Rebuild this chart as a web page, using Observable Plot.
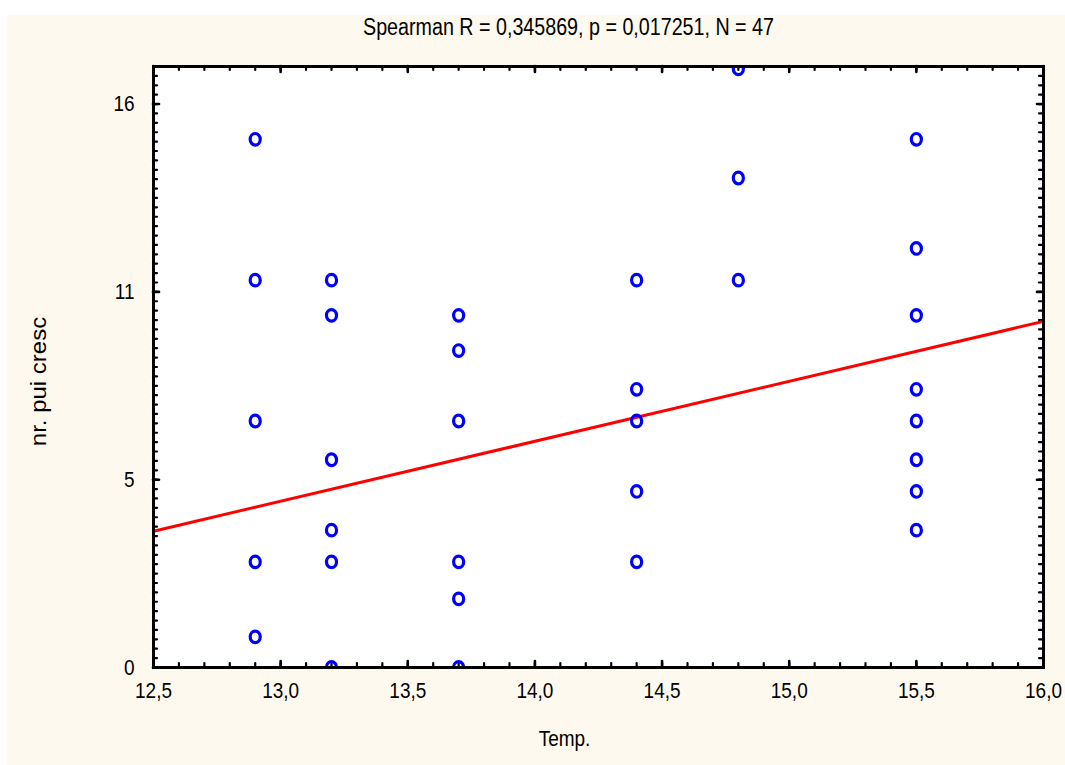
<!DOCTYPE html>
<html><head><meta charset="utf-8">
<script src="https://cdn.jsdelivr.net/npm/d3@7"></script>
<script src="https://cdn.jsdelivr.net/npm/@observablehq/plot@0.6"></script>
<style>
html,body{margin:0;padding:0;background:#fff;}
#bg{position:absolute;left:7px;top:15px;width:1058px;height:750px;background:#FEF9EE;}
#chart{position:absolute;left:0;top:0;}
</style></head><body>
<div id="bg"></div><div id="chart"></div>
<script>
// ---- data ----
const temp = [12.9,12.9,12.9,12.9,12.9,
              13.2,13.2,13.2,13.2,13.2,13.2,
              13.7,13.7,13.7,13.7,13.7,13.7,
              14.4,14.4,14.4,14.4,14.4,
              14.8,14.8,14.8,
              15.5,15.5,15.5,15.5,15.5,15.5,15.5,15.5];
const chicks = [15,11,7,3,0.87,
                11,10,5.9,3.9,3,0,
                10,9,7,3,1.95,0,
                11,7.9,7,5,3,
                17,13.9,11,
                15,11.9,10,7.9,7,5.9,5,3.9];
const fitX = [12.5, 16.0];
const fitY = [3.87, 9.83];
const xTickValues = [12.5,13.0,13.5,14.0,14.5,15.0,15.5,16.0];
const xTickLabels = ["12,5","13,0","13,5","14,0","14,5","15,0","15,5","16,0"];
const yTickValues = [0, 16/3, 32/3, 16];
const yTickLabels = ["0","5","11","16"];
const titleText = "Spearman R = 0,345869, p = 0,017251, N = 47";
const xLabel = "Temp.";
const yLabel = "nr. pui cresc";

const points = temp.map((t,i)=>({t, c: chicks[i]}));
const fit = fitX.map((x,i)=>({x, y: fitY[i]}));
const xMinor = d3.range(0, 36).map(i => 12.5 + i*0.1);
const yMinor = d3.range(0, 65).map(i => i*16/60);

const W = 1065, H = 765, ML = 153, MR = 22, MT = 66, MB = 98;
const FW = W-ML-MR, FH = H-MT-MB;
const font = "'Liberation Sans',Arial,sans-serif";

const ellipse = {draw(ctx, size){
  const r = Math.sqrt(size/Math.PI), rx = r*0.87, ry = r, k = 0.5523;
  ctx.moveTo(rx,0);
  ctx.bezierCurveTo(rx,k*ry,k*rx,ry,0,ry);
  ctx.bezierCurveTo(-k*rx,ry,-rx,k*ry,-rx,0);
  ctx.bezierCurveTo(-rx,-k*ry,-k*rx,-ry,0,-ry);
  ctx.bezierCurveTo(k*rx,-ry,rx,-k*ry,rx,0);
  ctx.closePath();
}};

const tickStyle = {stroke:"#000", strokeWidth:2.2, strokeLinecap:"round"};
const txt = {fill:"#000", lineAnchor:"middle"};

const chart = Plot.plot({
  width: W, height: H,
  marginLeft: ML, marginRight: MR, marginTop: MT, marginBottom: MB,
  x: {domain:[12.5,16.0], axis:null},
  y: {domain:[0,16*16/15], axis:null},
  style: {background:"transparent", fontFamily: font, color:"#000"},
  marks: [
    Plot.frame({fill:"#fff", stroke:null}),
    // minor ticks
    Plot.tickX(xMinor, {x:d=>d, insetTop: FH-4, ...tickStyle}),
    Plot.tickX(xMinor, {x:d=>d, insetBottom: FH-4, ...tickStyle}),
    Plot.tickY(yMinor, {y:d=>d, insetRight: FW-4, ...tickStyle}),
    Plot.tickY(yMinor, {y:d=>d, insetLeft: FW-4, ...tickStyle}),
    // major ticks
    Plot.tickX(xTickValues, {x:d=>d, insetTop: FH-6, ...tickStyle, strokeWidth:2.6}),
    Plot.tickX(xTickValues, {x:d=>d, insetBottom: FH-6, ...tickStyle, strokeWidth:2.6}),
    Plot.tickY(yTickValues, {y:d=>d, insetRight: FW-6, ...tickStyle, strokeWidth:2.6}),
    Plot.tickY(yTickValues, {y:d=>d, insetLeft: FW-6, ...tickStyle, strokeWidth:2.6}),
    // regression line
    Plot.line(fit, {x:"x", y:"y", stroke:"#FF0000", strokeWidth:3, clip:true}),
    // points
    Plot.dot(points, {x:"t", y:"c", symbol: ellipse, r:5.8, fill:"none", stroke:"#0000FF", strokeWidth:3.2, clip:true}),
    Plot.frame({stroke:"#000", strokeWidth:3}),
    // tick labels
    Plot.text(xTickValues, {x:d=>d, frameAnchor:"bottom", dy:23, textAnchor:"middle", text:(d,i)=>xTickLabels[i], fontSize:19, className:"hz", ...txt}),
    Plot.text(yTickValues, {y:d=>d, frameAnchor:"left", dx:-19, textAnchor:"end", text:(d,i)=>yTickLabels[i], fontSize:19, className:"hz", ...txt}),
    // title & axis labels
    Plot.text([titleText], {frameAnchor:"top", dx:-30, dy:-39, textAnchor:"middle", text:d=>d, fontSize:19.7, className:"hz", ...txt}),
    Plot.text([xLabel], {frameAnchor:"bottom", dx:-34, dy:71, textAnchor:"middle", text:d=>d, fontSize:19, className:"hz", ...txt}),
    Plot.text([yLabel], {frameAnchor:"left", dx:-115, dy:14.5, rotate:-90, textAnchor:"middle", text:d=>d, fontSize:20, className:"vt", ...txt})
  ]
});
document.getElementById("chart").appendChild(chart);

// The reference's lettering is stretched vertically (page stretched), emulate it
function stretch(sel, sx, sy) {
  chart.querySelectorAll(sel + " text").forEach(t => {
    let tr = t.getAttribute("transform") || "";
    const x = +(t.getAttribute("x") || 0), y = +(t.getAttribute("y") || 0);
    if (x || y) { t.removeAttribute("x"); t.removeAttribute("y"); tr += ` translate(${x},${y})`; }
    t.setAttribute("transform", (tr + ` scale(${sx},${sy})`).trim());
  });
}
stretch(".hz", 1, 1.17);
stretch(".vt", 1.2, 1.1);
</script>
</body></html>
